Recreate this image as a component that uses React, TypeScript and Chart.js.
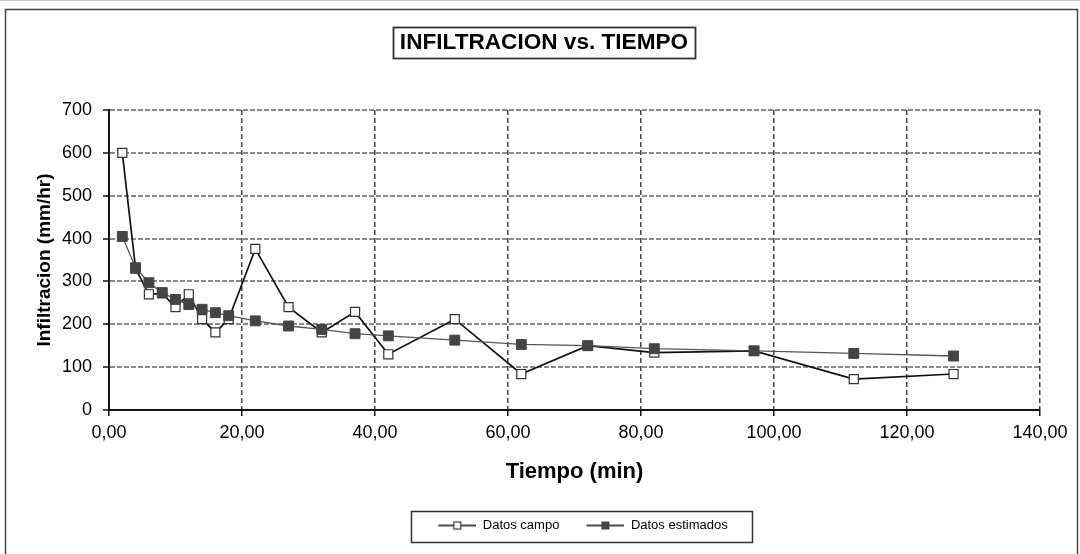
import React, { useEffect, useRef } from 'react';
import { Chart, registerables } from 'chart.js';

Chart.register(...registerables);

const tiempo = [2, 4, 6, 8, 10, 12, 14, 16, 18, 22, 27, 32, 37, 42, 52, 62, 72, 82, 97, 112, 127];
const datosCampo = [600, 330, 270, 272, 240, 270, 212, 181, 212, 376, 240, 181, 229, 130, 212, 84, 150, 134, 138, 72, 84];
const datosEstimados = [405, 332, 297, 274, 258, 246, 235, 227, 220, 208, 196, 188, 178, 173, 163, 153, 150, 143, 138, 132, 126];
const seriesNames = ['Datos campo', 'Datos estimados'];
const chartTitle = 'INFILTRACION vs. TIEMPO';
const xTitle = 'Tiempo (min)';
const yTitle = 'Infiltracion (mm/hr)';
const xMin = 0, xMax = 140, xStep = 20;
const yMin = 0, yMax = 700, yStep = 100;

const FONT = '"Liberation Sans", Arial, Helvetica, sans-serif';
const TITLE_SIZE = 22.6;
const GLYPH_MARGIN = 17;

function makeGlyph(filled: boolean): HTMLCanvasElement {
  const c = document.createElement('canvas');
  c.width = 38 + GLYPH_MARGIN;
  c.height = 12;
  const g = c.getContext('2d')!;
  g.strokeStyle = '#111';
  g.lineWidth = 1.5;
  g.beginPath();
  g.moveTo(GLYPH_MARGIN, 6);
  g.lineTo(GLYPH_MARGIN + 38, 6);
  g.stroke();
  const cx = GLYPH_MARGIN + 19;
  if (filled) {
    g.fillStyle = '#444';
    g.fillRect(cx - 4, 2, 8, 8);
  } else {
    g.fillStyle = '#fff';
    g.fillRect(cx - 4, 2, 8, 8);
    g.strokeStyle = '#333';
    g.lineWidth = 1.2;
    g.strokeRect(cx - 3.5, 2.5, 7, 7);
  }
  return c;
}

const framePlugin = {
  id: 'frameBoxes',
  beforeDraw(chart: any) {
    const ctx = chart.ctx;
    ctx.save();
    ctx.fillStyle = '#fff';
    ctx.fillRect(0, 0, chart.width, chart.height);
    ctx.strokeStyle = '#cccccc';
    ctx.lineWidth = 1;
    ctx.beginPath();
    ctx.moveTo(0, 0.5);
    ctx.lineTo(chart.width, 0.5);
    ctx.stroke();
    ctx.strokeStyle = '#444';
    ctx.lineWidth = 1.5;
    ctx.strokeRect(5.5, 9.5, 1072, 560);
    ctx.restore();
  },
  afterDraw(chart: any) {
    const ctx = chart.ctx;
    ctx.save();
    // title box
    ctx.font = 'bold ' + TITLE_SIZE + 'px ' + FONT;
    const w = ctx.measureText(chartTitle).width;
    const tb = chart.titleBlock;
    const cx = (tb.left + tb.right) / 2;
    ctx.strokeStyle = '#333';
    ctx.lineWidth = 1.8;
    ctx.strokeRect(Math.round(cx - w / 2 - 7) + 0.5, 27.5, Math.round(w + 14), 31);
    // legend box
    const hb = chart.legend && chart.legend.legendHitBoxes;
    if (hb && hb.length) {
      const first = hb[0];
      const last = hb[hb.length - 1];
      const left = first.left + GLYPH_MARGIN - 27;
      const right = last.left + last.width + 25;
      ctx.lineWidth = 1.5;
      ctx.strokeStyle = '#333';
      ctx.strokeRect(Math.round(left) + 0.5, 511.5, Math.round(right - left), 31);
    }
    ctx.restore();
  },
};

export default function App() {
  const ref = useRef<HTMLCanvasElement | null>(null);

  useEffect(() => {
    if (!ref.current) return;
    const glyphs = [makeGlyph(false), makeGlyph(true)];
    const campo = tiempo.map((t, i) => ({ x: t, y: datosCampo[i] }));
    const est = tiempo.map((t, i) => ({ x: t, y: datosEstimados[i] }));

    const chart = new Chart(ref.current, {
      type: 'line',
      data: {
        datasets: [
          {
            label: seriesNames[0],
            data: campo,
            borderColor: '#111',
            borderWidth: 1.7,
            pointStyle: 'rect',
            pointRadius: 6.4,
            pointBackgroundColor: '#fff',
            pointBorderColor: '#333',
            pointBorderWidth: 1.2,
            tension: 0,
            order: 1,
            yAxisID: 'y',
          },
          {
            label: seriesNames[1],
            data: est,
            borderColor: '#555',
            borderWidth: 1.3,
            pointStyle: 'rect',
            pointRadius: 7,
            pointBackgroundColor: '#444',
            pointBorderColor: '#444',
            pointBorderWidth: 1,
            tension: 0,
            order: 0,
            yAxisID: 'y',
          },
        ],
      },
      options: {
        responsive: false,
        animation: false,
        devicePixelRatio: 1,
        layout: { padding: { left: 8, right: 0, top: 0, bottom: 12 } },
        scales: {
          x: {
            type: 'linear',
            min: xMin,
            max: xMax,
            afterFit: (s: any) => { s.height = 99; },
            ticks: {
              stepSize: xStep,
              color: '#000',
              padding: 6,
              font: { family: FONT, size: 18 },
              maxRotation: 0,
              callback: (v: any) => Number(v).toFixed(2).replace('.', ','),
            },
            grid: {
              color: '#444',
              lineWidth: 1.5,
              tickColor: '#111',
              tickLength: 6,
              tickWidth: 1.5,
              tickBorderDash: [],
            } as any,
            border: { display: true, color: '#111', width: 2, dash: [5, 3] },
            title: {
              display: true,
              text: xTitle,
              color: '#000',
              font: { family: FONT, size: 22, weight: 'bold' },
              padding: { top: 0, bottom: 24 },
            },
          },
          y: {
            type: 'linear',
            position: 'left',
            min: yMin,
            max: yMax,
            afterFit: (s: any) => { s.width = 101; },
            ticks: {
              stepSize: yStep,
              color: '#000',
              padding: 11,
              font: { family: FONT, size: 18 },
            },
            grid: {
              color: '#8a8a8a',
              lineWidth: 2,
              tickColor: '#111',
              tickLength: 6,
              tickWidth: 1.5,
              tickBorderDash: [],
            } as any,
            border: { display: true, color: '#111', width: 2, dash: [5, 2] },
            title: {
              display: true,
              text: yTitle,
              color: '#000',
              font: { family: FONT, size: 19, weight: 'bold' },
              padding: { top: 25, bottom: 0 },
            },
          },
          yRight: {
            type: 'linear',
            position: 'right',
            min: 0,
            max: 1,
            display: true,
            afterFit: (s: any) => { s.width = 40; },
            ticks: { display: false },
            grid: { display: false, drawTicks: false },
            border: { display: false },
          },
        },
        plugins: {
          title: {
            display: true,
            text: chartTitle,
            color: '#000',
            font: { family: FONT, size: TITLE_SIZE, weight: 'bold' },
            padding: { top: 29.5, bottom: 53.4 },
          },
          legend: {
            display: true,
            position: 'bottom',
            fullSize: false,
            labels: {
              usePointStyle: true,
              pointStyleWidth: 38 + GLYPH_MARGIN,
              padding: 10,
              color: '#222',
              font: { family: FONT, size: 13 },
              generateLabels: () =>
                seriesNames.map((name, i) => ({
                  text: name,
                  fillStyle: i === 0 ? '#fff' : '#444',
                  strokeStyle: '#333',
                  lineWidth: 1,
                  pointStyle: glyphs[i] as any,
                  hidden: false,
                  datasetIndex: i,
                })),
            },
          },
          tooltip: { enabled: false },
        },
      },
      plugins: [framePlugin],
    } as any);

    return () => chart.destroy();
  }, []);

  return (
    <div style={{ position: 'absolute', left: 0, top: 0, width: 1080, height: 554, background: '#fff' }}>
      <canvas ref={ref} width={1080} height={554} style={{ display: 'block', width: 1080, height: 554 }} />
    </div>
  );
}
